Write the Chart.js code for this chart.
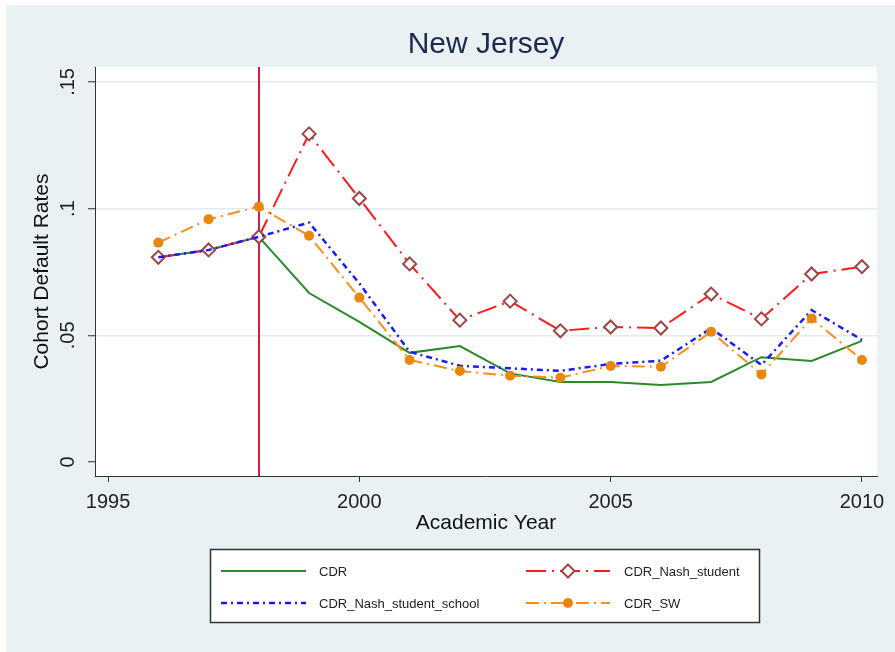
<!DOCTYPE html>
<html>
<head>
<meta charset="utf-8">
<script src="https://cdn.jsdelivr.net/npm/chart.js@4/dist/chart.umd.min.js"></script>
<style>
html,body{margin:0;padding:0;background:#ffffff;}
#wrap{width:895px;height:652px;position:relative;}
</style>
</head>
<body>
<div id="wrap"><canvas id="c" width="895" height="652"></canvas></div>
<script>
// ---- data ----
const chartTitle = 'New Jersey';
const xAxisTitle = 'Academic Year';
const yAxisTitle = 'Cohort Default Rates';
const years = [1996,1997,1998,1999,2000,2001,2002,2003,2004,2005,2006,2007,2008,2009,2010];
const cdr = [0.0808,0.0837,0.0889,0.0667,0.0553,0.0431,0.0458,0.0350,0.0316,0.0316,0.0304,0.0316,0.0414,0.0399,0.0478];
const cdrNashStudent = [0.0808,0.0837,0.0889,0.1295,0.1040,0.0782,0.0560,0.0635,0.0518,0.0533,0.0529,0.0663,0.0565,0.0742,0.0771];
const cdrNashStudentSchool = [0.0808,0.0837,0.0889,0.0945,0.0705,0.0435,0.0380,0.0370,0.0360,0.0387,0.0400,0.0528,0.0383,0.0600,0.0482];
const cdrSW = [0.0866,0.0958,0.1008,0.0893,0.0649,0.0403,0.0359,0.0341,0.0333,0.0379,0.0376,0.0514,0.0346,0.0567,0.0403];
const seriesNames = ['CDR','CDR_Nash_student','CDR_Nash_student_school','CDR_SW'];
const xTicks = [1995,2000,2005,2010];
const yTicks = [0,0.05,0.1,0.15];
const yTickLabels = ['0','.05','.1','.15'];
const policyYear = 1998;

// ---- chart ----
const FONT = "'Liberation Sans', Arial, Helvetica, sans-serif";
Chart.defaults.font.family = FONT;

const pts = arr => years.map((y, i) => ({x: y, y: arr[i]}));

const styles = [
  {borderColor:'#2a8a2a', borderWidth:2, borderDash:[], pointRadius:0, order:3},
  {borderColor:'#ff1a1a', borderWidth:2, borderDash:[20,6,2,6], pointStyle:'rectRot', pointRadius:6.5,
   pointBorderColor:'#9c4646', pointBackgroundColor:'#ffffff', pointBorderWidth:2, order:2},
  {borderColor:'#1a1aff', borderWidth:2.5, borderDash:[6,4,2,4], pointRadius:0, order:1},
  {borderColor:'#ff8c1a', borderWidth:2, borderDash:[13,5,2,5], pointStyle:'circle', pointRadius:5,
   pointBorderColor:'#e8870e', pointBackgroundColor:'#e8870e', pointBorderWidth:0, order:0}
];
const seriesData = [cdr, cdrNashStudent, cdrNashStudentSchool, cdrSW];

const datasets = seriesNames.map((name, i) => Object.assign({
  label: name,
  data: pts(seriesData[i]),
  fill: false,
  tension: 0,
  pointHoverRadius: 0
}, styles[i]));

const decor = {
  id: 'decor',
  beforeDraw(chart) {
    const {ctx, chartArea: a} = chart;
    ctx.save();
    ctx.fillStyle = '#ffffff';
    ctx.fillRect(0, 0, chart.width, chart.height);
    ctx.fillStyle = '#e9f1f3';
    ctx.fillRect(6, 5, chart.width - 6, chart.height - 5);
    ctx.fillStyle = '#ffffff';
    ctx.fillRect(a.left, a.top, a.right - a.left, a.bottom - a.top);
    ctx.restore();
  },
  beforeDatasetsDraw(chart) {
    const {ctx, chartArea: a, scales: {x}} = chart;
    const px = Math.round(x.getPixelForValue(policyYear));
    ctx.save();
    ctx.strokeStyle = '#c8203f';
    ctx.lineWidth = 2;
    ctx.beginPath();
    ctx.moveTo(px, a.top);
    ctx.lineTo(px, a.bottom);
    ctx.stroke();
    ctx.restore();
  },
  afterDraw(chart) {
    const {ctx, chartArea: a, scales: {y}} = chart;
    ctx.save();
    // title
    ctx.fillStyle = '#1c2a4f';
    ctx.font = '30px ' + FONT;
    ctx.textAlign = 'center';
    ctx.textBaseline = 'middle';
    ctx.fillText(chartTitle, (a.left + a.right) / 2, 45);
    // rotated y tick labels
    ctx.fillStyle = '#222222';
    ctx.font = '20px ' + FONT;
    yTicks.forEach((v, i) => {
      const py = y.getPixelForValue(v);
      ctx.save();
      ctx.translate(68, py);
      ctx.rotate(-Math.PI / 2);
      ctx.textAlign = 'center';
      ctx.textBaseline = 'middle';
      ctx.fillText(yTickLabels[i], 0, 0);
      ctx.restore();
    });
    // legend
    const bx = 210, by = 549, bw = 549, bh = 73;
    ctx.fillStyle = '#ffffff';
    ctx.fillRect(bx, by, bw, bh);
    ctx.strokeStyle = '#333333';
    ctx.lineWidth = 1.5;
    ctx.strokeRect(bx + 0.5, by + 0.5, bw, bh);
    chart.data.datasets.forEach((ds, i) => {
      const col = i % 2, row = Math.floor(i / 2);
      const x0 = col ? 526 : 221, x1 = col ? 610 : 306;
      const ly = row ? 603 : 571;
      const tx = col ? 624 : 319;
      ctx.strokeStyle = ds.borderColor;
      ctx.lineWidth = ds.borderWidth;
      ctx.setLineDash(ds.borderDash || []);
      ctx.beginPath();
      ctx.moveTo(x0, ly);
      ctx.lineTo(x1, ly);
      ctx.stroke();
      ctx.setLineDash([]);
      const mx = (x0 + x1) / 2;
      if (ds.pointRadius > 0) {
        if (ds.pointStyle === 'rectRot') {
          const r = ds.pointRadius;
          ctx.beginPath();
          ctx.moveTo(mx, ly - r); ctx.lineTo(mx + r, ly); ctx.lineTo(mx, ly + r); ctx.lineTo(mx - r, ly); ctx.closePath();
          ctx.fillStyle = ds.pointBackgroundColor; ctx.fill();
          ctx.strokeStyle = ds.pointBorderColor; ctx.lineWidth = ds.pointBorderWidth; ctx.stroke();
        } else {
          ctx.beginPath();
          ctx.arc(mx, ly, ds.pointRadius, 0, Math.PI * 2);
          ctx.fillStyle = ds.pointBackgroundColor; ctx.fill();
        }
      }
      ctx.fillStyle = '#222222';
      ctx.font = '13px ' + FONT;
      ctx.textAlign = 'left';
      ctx.textBaseline = 'middle';
      ctx.fillText(ds.label, tx, ly + 1);
    });
    ctx.restore();
  }
};

new Chart(document.getElementById('c'), {
  type: 'line',
  data: {datasets},
  options: {
    responsive: false,
    animation: false,
    devicePixelRatio: 1,
    events: [],
    layout: {padding: {top: 67, right: 18, bottom: 116, left: 0}},
    plugins: {legend: {display: false}, title: {display: false}, tooltip: {enabled: false}},
    scales: {
      x: {
        type: 'linear',
        min: 1994.74,
        max: 2010.3,
        afterBuildTicks: s => { s.ticks = xTicks.map(v => ({value: v})); },
        afterFit: s => { s.height = 60; },
        ticks: {font: {size: 20}, color: '#222222', padding: 8, maxRotation: 0, callback: v => String(v)},
        grid: {drawOnChartArea: false, drawTicks: true, tickLength: 6, tickColor: '#333333', tickWidth: 1},
        border: {display: true, color: '#333333', width: 1},
        title: {display: true, text: xAxisTitle, font: {size: 21}, color: '#111111', padding: {top: 0, bottom: 0}}
      },
      y: {
        type: 'linear',
        min: -0.0055,
        max: 0.1559,
        afterBuildTicks: s => { s.ticks = yTicks.map(v => ({value: v})); },
        afterFit: s => { s.width = 95; },
        ticks: {display: false},
        grid: {
          drawOnChartArea: true, drawTicks: true, tickLength: 7, tickColor: '#333333', tickWidth: 1, lineWidth: 1.5,
          color: c => (c.tick && c.tick.value === 0) ? 'rgba(0,0,0,0)' : '#e2ecef'
        },
        border: {display: true, color: '#333333', width: 1},
        title: {display: true, text: yAxisTitle, font: {size: 21}, color: '#111111', padding: {top: 30, bottom: 0}}
      }
    }
  },
  plugins: [decor]
});
</script>
</body>
</html>
